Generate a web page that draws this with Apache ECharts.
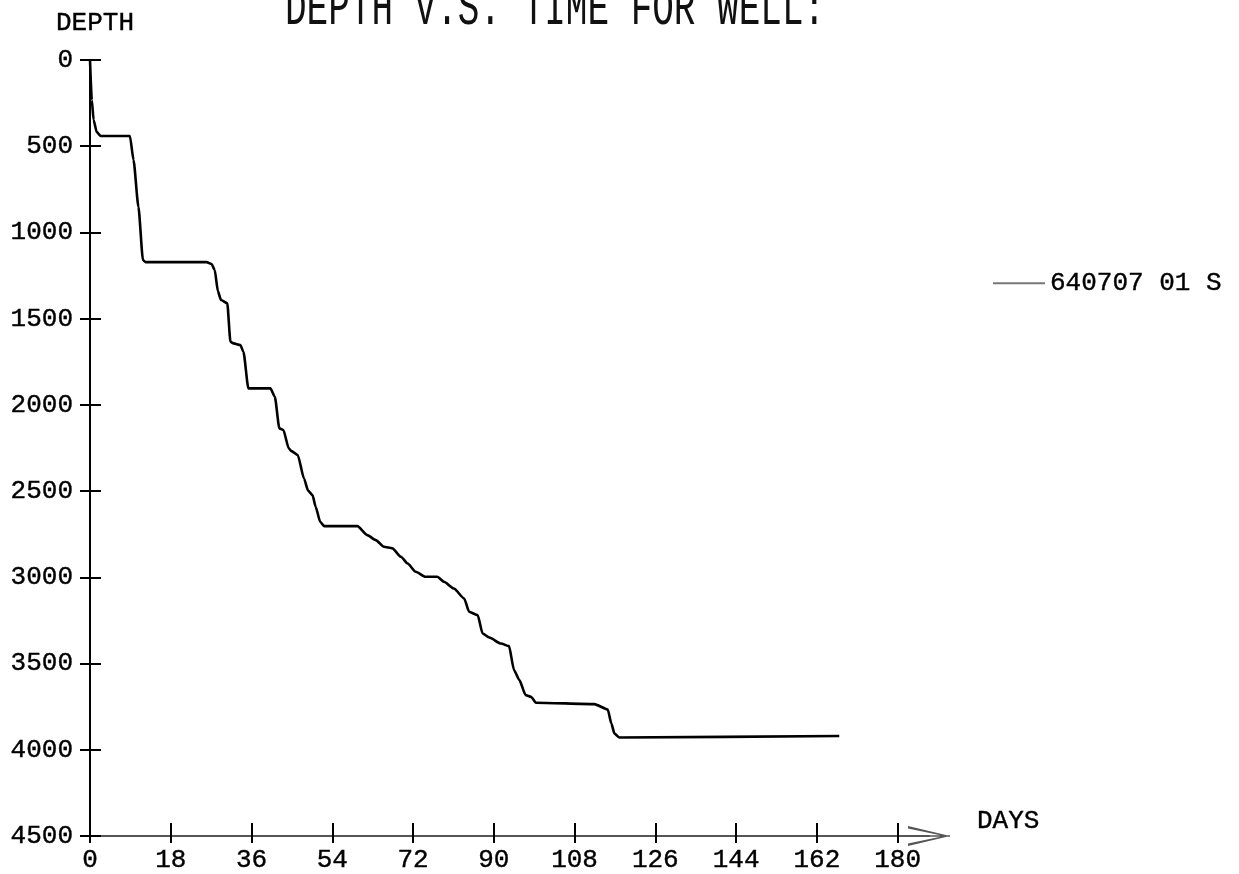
<!DOCTYPE html>
<html>
<head>
<meta charset="utf-8">
<script src="https://cdn.jsdelivr.net/npm/echarts@6/dist/echarts.min.js"></script>
<style>
  html, body { margin: 0; padding: 0; background: #fff; }
  #chart { width: 1239px; height: 874px; }
</style>
</head>
<body>
<div id="chart"></div>
<script>
// depth vs time for well 640707 01 S
const seriesName = '640707 01 S';
const days = [0, 0.4, 0.8, 1.5, 2.4, 8.9, 9.7, 10.8, 11.8, 12.4, 26.0, 27.1, 27.8, 28.5, 29.2, 30.6,
  31.3, 32.0, 33.5, 34.2, 35.3, 40.2, 41.2, 42.2, 43.1, 44.3, 44.9, 46.3, 47.7, 48.6, 49.6, 50.3,
  51.3, 52.2, 59.6, 61.8, 63.7, 65.5, 67.4, 69.3, 70.8, 72.6, 74.8, 77.4, 78.9, 81.1, 83.4, 84.5,
  86.4, 87.5, 89.0, 91.6, 93.4, 94.5, 95.7, 97.1, 98.3, 99.4, 112.4, 115.4, 116.2, 116.9, 118.0, 167.0];
const depths = [0, 232, 348, 418, 441, 441, 580, 853, 1160, 1172, 1172, 1183, 1218, 1340, 1392, 1411,
  1634, 1643, 1653, 1692, 1904, 1904, 1953, 2136, 2146, 2252, 2268, 2291, 2427, 2497, 2523, 2591,
  2678, 2703, 2703, 2755, 2784, 2823, 2832, 2881, 2920, 2968, 2997, 2997, 3026, 3065, 3123, 3200,
  3219, 3326, 3349, 3384, 3399, 3538, 3596, 3683, 3693, 3727, 3735, 3766, 3848, 3906, 3929, 3920];
const dayTicks = [0, 18, 36, 54, 72, 90, 108, 126, 144, 162, 180];
const depthMax = 4500;
const depthStep = 500;
const dayMax = 187;

const font = '"Liberation Mono", "DejaVu Sans Mono", monospace';
const chart = echarts.init(document.getElementById('chart'), null, { renderer: 'canvas' });

const points = days.map((d, i) => [d, depths[i]]);

// plotter style lettering: mono, slightly thickened
const labelStyle = {
  fontFamily: font,
  fontSize: 26,
  color: '#000',
  textBorderColor: '#000',
  textBorderWidth: 0.4
};

// open chevron plus shaft, pointing up in symbol space
const arrowPath = 'path://M0,42 L10,0 L20,42 L17.6,42 L10,6 L2.4,42 Z M9.2,0 L10.8,0 L10.8,42 L9.2,42 Z';

chart.setOption({
  animation: false,
  backgroundColor: '#fff',
  graphic: [{
    type: 'text',
    x: 285,
    y: 37,
    scaleY: 1.5,
    style: {
      text: 'DEPTH V.S. TIME FOR WELL:',
      fontFamily: font,
      fontSize: 36,
      fill: '#111',
      verticalAlign: 'bottom'
    }
  }],
  legend: {
    left: 988,
    top: 265,
    icon: 'rect',
    itemWidth: 52,
    itemHeight: 2,
    data: [seriesName],
    itemStyle: { color: '#777' },
    textStyle: labelStyle
  },
  grid: { left: 90, top: 60, width: 839, height: 776, outerBoundsMode: 'none', containLabel: false },
  xAxis: [{
    type: 'value',
    min: 0,
    max: dayMax,
    position: 'bottom',
    name: 'DAYS',
    nameLocation: 'end',
    nameGap: 48,
    nameTextStyle: Object.assign({}, labelStyle, { verticalAlign: 'bottom', padding: [0, 0, 2, 0] }),
    axisLine: {
      onZero: false,
      symbol: ['none', arrowPath],
      symbolSize: [22, 42],
      lineStyle: { color: '#555', width: 2 }
    },
    axisTick: { inside: true, length: 13, customValues: dayTicks, lineStyle: { color: '#000', width: 2 } },
    axisLabel: Object.assign({ customValues: dayTicks, margin: 11 }, labelStyle),
    splitLine: { show: false }
  }, {
    type: 'value',
    min: 0,
    max: dayMax,
    position: 'bottom',
    axisLine: { show: false, onZero: false },
    axisTick: { inside: false, length: 7, customValues: dayTicks, lineStyle: { color: '#000', width: 2 } },
    axisLabel: { show: false },
    splitLine: { show: false }
  }],
  yAxis: [{
    type: 'value',
    inverse: true,
    min: 0,
    max: depthMax,
    interval: depthStep,
    position: 'left',
    name: 'DEPTH',
    nameLocation: 'start',
    nameGap: 24,
    nameTextStyle: Object.assign({}, labelStyle, { padding: [0, 0, 0, 10] }),
    axisLine: { show: true, onZero: false, lineStyle: { color: '#000', width: 2 } },
    axisTick: { inside: true, length: 11, lineStyle: { color: '#000', width: 2 } },
    axisLabel: Object.assign({ margin: 17, formatter: v => String(v) }, labelStyle),
    splitLine: { show: false }
  }, {
    type: 'value',
    inverse: true,
    min: 0,
    max: depthMax,
    interval: depthStep,
    position: 'left',
    axisLine: { show: false, onZero: false },
    axisTick: { inside: false, length: 10, lineStyle: { color: '#000', width: 2 } },
    axisLabel: { show: false },
    splitLine: { show: false }
  }],
  series: [{
    name: seriesName,
    type: 'line',
    xAxisIndex: 0,
    yAxisIndex: 0,
    data: points,
    symbol: 'none',
    smooth: 0.2,
    smoothMonotone: 'x',
    itemStyle: { color: '#000' },
    lineStyle: { color: '#000', width: 2.6 }
  }]
});
</script>
</body>
</html>
